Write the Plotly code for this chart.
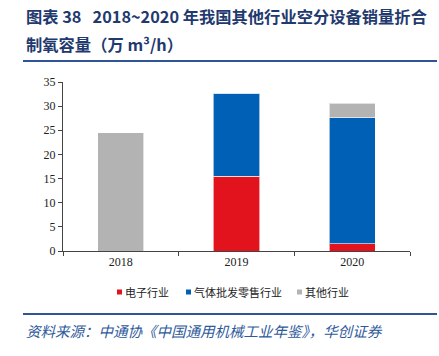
import plotly.graph_objects as go

years = ["2018", "2019", "2020"]
electronics = [0, 15.5, 1.5]
gas_retail = [0, 17.2, 26.1]
others = [24.5, 0, 3.0]
y_ticks = [0, 5, 10, 15, 20, 25, 30, 35]
series_names = ["电子行业", "气体批发零售行业", "其他行业"]
series_colors = ["#E3131D", "#0060B5", "#B3B3B3"]

W, H = 439, 356
L, R, T, B = 63, 29, 82, 105
PW, PH = W - L - R, H - T - B

def px(x):
    return (x - L) / PW

def py(y):
    return (H - B - y) / PH

fig = go.Figure()
line_style = dict(color="rgba(255,255,255,0.6)", width=1)
for name, vals, col in zip(series_names, [electronics, gas_retail, others], series_colors):
    fig.add_trace(go.Bar(name=name, x=years, y=vals, marker=dict(color=col, line=line_style),
                         showlegend=False))

fig.update_layout(
    barmode="stack",
    bargap=0.6,
    width=W, height=H,
    margin=dict(l=L, r=R, t=T, b=B, autoexpand=False),
    paper_bgcolor="white", plot_bgcolor="white",
    font=dict(family="Liberation Serif", size=12, color="#222"),
    showlegend=False,
    xaxis=dict(type="category", showline=True, linecolor="#444", linewidth=1,
               ticks="outside", tickson="boundaries", ticklen=4, tickcolor="#444",
               tickfont=dict(family="Liberation Serif", size=12, color="#222")),
    yaxis=dict(range=[0, 35], tickvals=y_ticks, showline=True, linecolor="#444", linewidth=1,
               ticks="outside", ticklen=4, tickcolor="#444", showgrid=False, zeroline=False,
               tickfont=dict(family="Liberation Serif", size=12, color="#222")),
)

# Title
fig.add_annotation(text="<b>图表 38   2018~2020 年我国其他行业空分设备销量折合</b>",
                   xref="paper", yref="paper", x=px(24), y=py(16), xanchor="left", yanchor="middle",
                   showarrow=False, font=dict(family="Noto Sans CJK SC", size=16.3, color="#1F3A6E"))
fig.add_annotation(text="<b>制氧容量（万 m³/h）</b>",
                   xref="paper", yref="paper", x=px(24), y=py(44), xanchor="left", yanchor="middle",
                   showarrow=False, font=dict(family="Noto Sans CJK SC", size=16.3, color="#1F3A6E"))
# Source
fig.add_annotation(text="<i>资料来源：中通协《中国通用机械工业年鉴》，华创证券</i>",
                   xref="paper", yref="paper", x=px(24), y=py(330), xanchor="left", yanchor="middle",
                   showarrow=False, font=dict(family="Noto Sans CJK SC", size=14.5, color="#2E5A9A"))

# Rules
for yy in (61, 314):
    fig.add_shape(type="line", xref="paper", yref="paper", x0=px(23), x1=px(437),
                  y0=py(yy), y1=py(yy), line=dict(color="#2F5597", width=2))

# Legend
leg_sq_x = [117, 186, 297]
leg_y = 292
for name, col, sx in zip(series_names, series_colors, leg_sq_x):
    fig.add_shape(type="rect", xref="paper", yref="paper", x0=px(sx), x1=px(sx + 5),
                  y0=py(leg_y + 2.5), y1=py(leg_y - 2.5), fillcolor=col, line=dict(width=0))
    fig.add_annotation(text=name, xref="paper", yref="paper", x=px(sx + 6), y=py(leg_y),
                       xanchor="left", yanchor="middle", showarrow=False,
                       font=dict(family="Noto Sans CJK SC", size=11, color="#222"))

fig.write_html("out.html", config={"displayModeBar": False},
               post_script="document.body.style.margin='0px';")
